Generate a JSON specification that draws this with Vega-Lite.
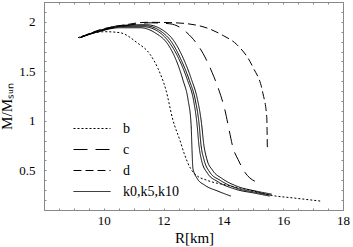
{
  "$schema": "https://vega.github.io/schema/vega-lite/v6.json",
  "width": 299,
  "height": 208,
  "autosize": "none",
  "padding": {"left": 44, "top": 2, "right": 10, "bottom": 37},
  "background": "white",
  "config": {
    "view": {"stroke": "#888888", "strokeWidth": 1},
    "font": "Liberation Serif",
    "axis": {"domain": false, "grid": false, "labelFont": "Liberation Serif", "titleFont": "Liberation Serif", "labelColor": "black", "titleColor": "black", "tickColor": "#888888", "titleFontWeight": "normal"}
  },
  "data": {"values": [
    {"c":"b","t":"b","i":0,"R":9.14,"M":1.84},
    {"c":"b","t":"b","i":1,"R":9.54,"M":1.88},
    {"c":"b","t":"b","i":2,"R":10.04,"M":1.90},
    {"c":"b","t":"b","i":3,"R":10.54,"M":1.89},
    {"c":"b","t":"b","i":4,"R":11.11,"M":1.79},
    {"c":"b","t":"b","i":5,"R":11.55,"M":1.67},
    {"c":"b","t":"b","i":6,"R":11.81,"M":1.53},
    {"c":"b","t":"b","i":7,"R":12.08,"M":1.31},
    {"c":"b","t":"b","i":8,"R":12.31,"M":1.01},
    {"c":"b","t":"b","i":9,"R":12.55,"M":0.80},
    {"c":"b","t":"b","i":10,"R":12.70,"M":0.66},
    {"c":"b","t":"b","i":11,"R":12.90,"M":0.52},
    {"c":"b","t":"b","i":12,"R":13.10,"M":0.45},
    {"c":"b","t":"b","i":13,"R":13.45,"M":0.40},
    {"c":"b","t":"b","i":14,"R":14.12,"M":0.35},
    {"c":"b","t":"b","i":15,"R":14.89,"M":0.30},
    {"c":"b","t":"b","i":16,"R":15.56,"M":0.25},
    {"c":"b","t":"b","i":17,"R":16.39,"M":0.22},
    {"c":"b","t":"b","i":18,"R":17.25,"M":0.19},

    {"c":"c","t":"c","i":0,"R":9.20,"M":1.84},
    {"c":"c","t":"c","i":1,"R":9.87,"M":1.91},
    {"c":"c","t":"c","i":2,"R":10.71,"M":1.96},
    {"c":"c","t":"c","i":3,"R":11.55,"M":1.99},
    {"c":"c","t":"c","i":4,"R":12.21,"M":1.98},
    {"c":"c","t":"c","i":5,"R":12.78,"M":1.89},
    {"c":"c","t":"c","i":6,"R":13.32,"M":1.68},
    {"c":"c","t":"c","i":7,"R":13.62,"M":1.49},
    {"c":"c","t":"c","i":8,"R":13.85,"M":1.31},
    {"c":"c","t":"c","i":9,"R":14.05,"M":1.11},
    {"c":"c","t":"c","i":10,"R":14.19,"M":0.91},
    {"c":"c","t":"c","i":11,"R":14.32,"M":0.73},
    {"c":"c","t":"c","i":12,"R":14.49,"M":0.61},
    {"c":"c","t":"c","i":13,"R":14.72,"M":0.48},
    {"c":"c","t":"c","i":14,"R":15.12,"M":0.38},

    {"c":"d","t":"d","i":0,"R":9.27,"M":1.85},
    {"c":"d","t":"d","i":1,"R":9.87,"M":1.92},
    {"c":"d","t":"d","i":2,"R":10.54,"M":1.96},
    {"c":"d","t":"d","i":3,"R":11.44,"M":1.995},
    {"c":"d","t":"d","i":4,"R":12.38,"M":1.99},
    {"c":"d","t":"d","i":5,"R":13.32,"M":1.95},
    {"c":"d","t":"d","i":6,"R":14.00,"M":1.86},
    {"c":"d","t":"d","i":7,"R":14.45,"M":1.77},
    {"c":"d","t":"d","i":8,"R":14.99,"M":1.54},
    {"c":"d","t":"d","i":9,"R":15.32,"M":1.28},
    {"c":"d","t":"d","i":10,"R":15.45,"M":1.04},
    {"c":"d","t":"d","i":11,"R":15.47,"M":0.71},

    {"c":"k1","t":"k0,k5,k10","i":0,"R":9.20,"M":1.84},
    {"c":"k1","t":"k0,k5,k10","i":1,"R":9.87,"M":1.905},
    {"c":"k1","t":"k0,k5,k10","i":2,"R":10.54,"M":1.94},
    {"c":"k1","t":"k0,k5,k10","i":3,"R":11.21,"M":1.94},
    {"c":"k1","t":"k0,k5,k10","i":4,"R":11.71,"M":1.89},
    {"c":"k1","t":"k0,k5,k10","i":5,"R":12.15,"M":1.77},
    {"c":"k1","t":"k0,k5,k10","i":6,"R":12.41,"M":1.62},
    {"c":"k1","t":"k0,k5,k10","i":7,"R":12.65,"M":1.41},
    {"c":"k1","t":"k0,k5,k10","i":8,"R":12.82,"M":1.21},
    {"c":"k1","t":"k0,k5,k10","i":9,"R":12.92,"M":0.96},
    {"c":"k1","t":"k0,k5,k10","i":10,"R":12.95,"M":0.71},
    {"c":"k1","t":"k0,k5,k10","i":11,"R":12.98,"M":0.52},
    {"c":"k1","t":"k0,k5,k10","i":12,"R":13.12,"M":0.42},
    {"c":"k1","t":"k0,k5,k10","i":13,"R":13.38,"M":0.35},
    {"c":"k1","t":"k0,k5,k10","i":14,"R":13.82,"M":0.29},
    {"c":"k1","t":"k0,k5,k10","i":15,"R":14.25,"M":0.24},

    {"c":"k2","t":"k0,k5,k10","i":0,"R":9.20,"M":1.84},
    {"c":"k2","t":"k0,k5,k10","i":1,"R":9.87,"M":1.905},
    {"c":"k2","t":"k0,k5,k10","i":2,"R":10.58,"M":1.95},
    {"c":"k2","t":"k0,k5,k10","i":3,"R":11.33,"M":1.95},
    {"c":"k2","t":"k0,k5,k10","i":4,"R":11.83,"M":1.90},
    {"c":"k2","t":"k0,k5,k10","i":5,"R":12.22,"M":1.78},
    {"c":"k2","t":"k0,k5,k10","i":6,"R":12.52,"M":1.62},
    {"c":"k2","t":"k0,k5,k10","i":7,"R":12.80,"M":1.41},
    {"c":"k2","t":"k0,k5,k10","i":8,"R":13.00,"M":1.21},
    {"c":"k2","t":"k0,k5,k10","i":9,"R":13.12,"M":0.96},
    {"c":"k2","t":"k0,k5,k10","i":10,"R":13.18,"M":0.76},
    {"c":"k2","t":"k0,k5,k10","i":11,"R":13.27,"M":0.60},
    {"c":"k2","t":"k0,k5,k10","i":12,"R":13.47,"M":0.47},
    {"c":"k2","t":"k0,k5,k10","i":13,"R":13.82,"M":0.385},
    {"c":"k2","t":"k0,k5,k10","i":14,"R":14.40,"M":0.31},
    {"c":"k2","t":"k0,k5,k10","i":15,"R":15.05,"M":0.27},
    {"c":"k2","t":"k0,k5,k10","i":16,"R":15.55,"M":0.24},

    {"c":"k3","t":"k0,k5,k10","i":0,"R":9.20,"M":1.84},
    {"c":"k3","t":"k0,k5,k10","i":1,"R":9.87,"M":1.91},
    {"c":"k3","t":"k0,k5,k10","i":2,"R":10.61,"M":1.955},
    {"c":"k3","t":"k0,k5,k10","i":3,"R":11.38,"M":1.96},
    {"c":"k3","t":"k0,k5,k10","i":4,"R":11.88,"M":1.91},
    {"c":"k3","t":"k0,k5,k10","i":5,"R":12.28,"M":1.79},
    {"c":"k3","t":"k0,k5,k10","i":6,"R":12.58,"M":1.62},
    {"c":"k3","t":"k0,k5,k10","i":7,"R":12.86,"M":1.41},
    {"c":"k3","t":"k0,k5,k10","i":8,"R":13.06,"M":1.21},
    {"c":"k3","t":"k0,k5,k10","i":9,"R":13.19,"M":0.96},
    {"c":"k3","t":"k0,k5,k10","i":10,"R":13.25,"M":0.76},
    {"c":"k3","t":"k0,k5,k10","i":11,"R":13.35,"M":0.61},
    {"c":"k3","t":"k0,k5,k10","i":12,"R":13.55,"M":0.48},
    {"c":"k3","t":"k0,k5,k10","i":13,"R":13.89,"M":0.40},
    {"c":"k3","t":"k0,k5,k10","i":14,"R":14.45,"M":0.32},
    {"c":"k3","t":"k0,k5,k10","i":15,"R":15.06,"M":0.28},
    {"c":"k3","t":"k0,k5,k10","i":16,"R":15.59,"M":0.25},

    {"c":"k4","t":"k0,k5,k10","i":0,"R":9.20,"M":1.84},
    {"c":"k4","t":"k0,k5,k10","i":1,"R":9.87,"M":1.915},
    {"c":"k4","t":"k0,k5,k10","i":2,"R":10.64,"M":1.965},
    {"c":"k4","t":"k0,k5,k10","i":3,"R":11.43,"M":1.97},
    {"c":"k4","t":"k0,k5,k10","i":4,"R":11.95,"M":1.92},
    {"c":"k4","t":"k0,k5,k10","i":5,"R":12.36,"M":1.80},
    {"c":"k4","t":"k0,k5,k10","i":6,"R":12.66,"M":1.63},
    {"c":"k4","t":"k0,k5,k10","i":7,"R":12.93,"M":1.42},
    {"c":"k4","t":"k0,k5,k10","i":8,"R":13.13,"M":1.22},
    {"c":"k4","t":"k0,k5,k10","i":9,"R":13.27,"M":0.97},
    {"c":"k4","t":"k0,k5,k10","i":10,"R":13.34,"M":0.77},
    {"c":"k4","t":"k0,k5,k10","i":11,"R":13.44,"M":0.62},
    {"c":"k4","t":"k0,k5,k10","i":12,"R":13.64,"M":0.50},
    {"c":"k4","t":"k0,k5,k10","i":13,"R":13.97,"M":0.415},
    {"c":"k4","t":"k0,k5,k10","i":14,"R":14.50,"M":0.335},
    {"c":"k4","t":"k0,k5,k10","i":15,"R":15.10,"M":0.29},
    {"c":"k4","t":"k0,k5,k10","i":16,"R":15.62,"M":0.26}
  ]},
  "layer": [
    {
      "mark": {"type": "line", "color": "black", "strokeWidth": 1, "interpolate": "monotone"},
      "encoding": {
        "x": {"field": "R", "type": "quantitative", "scale": {"domain": [8, 18], "nice": false, "zero": false},
          "axis": {"orient": "bottom", "title": "R[km]", "titleFontSize": 15, "labelFontSize": 13, "labelPadding": 6,
            "values": [8,8.5,9,9.5,10,10.5,11,11.5,12,12.5,13,13.5,14,14.5,15,15.5,16,16.5,17,17.5,18],
            "labelExpr": "datum.value >= 10 && datum.value % 2 === 0 ? format(datum.value, 'd') : ''",
            "labelFlush": false, "labelOverlap": false,
            "tickSize": -2,
            "encode": {"ticks": {"update": {"y2": {"signal": "datum.value % 2 === 0 ? -4 : -2"}}}},
            "titleX": 150, "titleY": 20, "titleBaseline": "top", "titleAlign": "center"}},
        "y": {"field": "M", "type": "quantitative", "scale": {"domain": [0.1, 2.2], "nice": false, "zero": false},
          "axis": {"orient": "left", "title": "M/Mₛᵤₙ", "titleFontSize": 15, "labelFontSize": 13, "labelPadding": 11,
            "values": [0.1,0.2,0.3,0.4,0.5,0.6,0.7,0.8,0.9,1,1.1,1.2,1.3,1.4,1.5,1.6,1.7,1.8,1.9,2,2.1,2.2],
            "labelExpr": "abs(datum.value*2 - round(datum.value*2)) < 1e-6 ? format(datum.value, '~g') : ''",
            "labelOverlap": false, "labelFlush": false,
            "tickSize": -2,
            "encode": {"ticks": {"update": {"x2": {"signal": "abs(datum.value*2 - round(datum.value*2)) < 1e-6 ? 4 : 2"}}}},
            "titlePadding": 4}},
        "detail": {"field": "c"},
        "order": {"field": "i", "type": "quantitative"},
        "strokeDash": {"field": "t", "type": "nominal",
          "scale": {"domain": ["b", "c", "d", "k0,k5,k10"], "range": [[2, 2], [14, 8], [8, 4], [1, 0]]},
          "legend": {"orient": "none", "legendX": 29, "legendY": 116, "padding": 0, "title": null, "symbolType": "stroke", "symbolSize": 1369,
            "clipHeight": 21, "rowPadding": 0,
            "symbolStrokeWidth": 1, "symbolStrokeColor": "black", "labelFontSize": 14, "labelFont": "Liberation Serif", "labelOffset": 12, "labelColor": "black"}}
      }
    },
    {
      "mark": {"type": "point", "opacity": 0},
      "encoding": {
        "x": {"field": "R", "type": "quantitative",
          "axis": {"orient": "top", "title": null, "labels": false,
            "values": [8,8.5,9,9.5,10,10.5,11,11.5,12,12.5,13,13.5,14,14.5,15,15.5,16,16.5,17,17.5,18],
            "tickSize": -2,
            "encode": {"ticks": {"update": {"y2": {"signal": "datum.value % 2 === 0 ? 4 : 2"}}}}}},
        "y": {"field": "M", "type": "quantitative",
          "axis": {"orient": "right", "title": null, "labels": false,
            "values": [0.1,0.2,0.3,0.4,0.5,0.6,0.7,0.8,0.9,1,1.1,1.2,1.3,1.4,1.5,1.6,1.7,1.8,1.9,2,2.1,2.2],
            "tickSize": -2,
            "encode": {"ticks": {"update": {"x2": {"signal": "abs(datum.value*2 - round(datum.value*2)) < 1e-6 ? -4 : -2"}}}}}}
      }
    }
  ],
  "resolve": {"axis": {"x": "independent", "y": "independent"}}
}
